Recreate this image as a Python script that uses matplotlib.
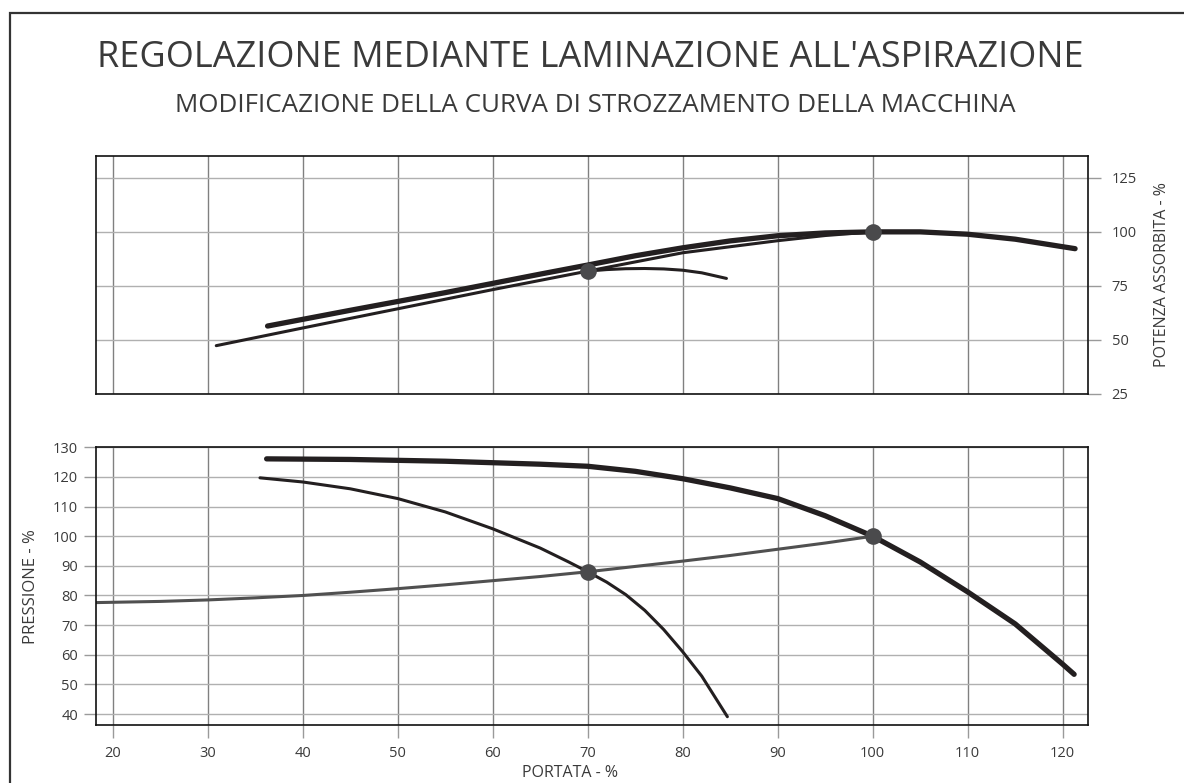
import numpy as np
import matplotlib
matplotlib.use("Agg")
import matplotlib.pyplot as plt
from matplotlib.patches import Rectangle

plt.rcParams['font.family'] = ['Open Sans', 'DejaVu Sans']

# --- data ---
# upper panel: absorbed power (%)
pow_full_x = [36.3, 45, 55, 65, 70, 75, 80, 85, 90, 95, 100, 105, 110, 115, 120, 121.3]
pow_full_y = [56.3, 63.6, 71.8, 80.4, 84.6, 88.9, 92.6, 95.8, 98.2, 99.5, 100.0, 100.0, 98.9, 96.6, 93.1, 92.2]
pow_thr_x = [30.9, 40, 50, 60, 70, 80, 90, 95, 100]
pow_thr_y = [47.2, 55.4, 64.3, 73.2, 81.8, 90.3, 95.9, 98.3, 100.0]
pow_branch_x = [70, 72, 74, 76, 78, 80, 82, 84.6]
pow_branch_y = [81.8, 82.5, 82.9, 83.0, 82.8, 82.2, 81.0, 78.4]
pow_points_x = [70, 100]
pow_points_y = [81.8, 100]

# lower panel: pressure (%)
head_full_x = [36.2, 45, 55, 65, 70, 75, 80, 85, 90, 95, 100, 105, 110, 115, 120, 121.2]
head_full_y = [126.1, 125.9, 125.3, 124.3, 123.6, 121.9, 119.4, 116.3, 112.7, 106.9, 100.0, 91.3, 81.2, 70.4, 56.8, 53.4]
head_thr_x = [35.5, 40, 45, 50, 55, 60, 65, 68, 70, 72, 74, 76, 78, 80, 82, 84.7]
head_thr_y = [119.7, 118.3, 116.0, 112.7, 108.2, 102.5, 96.0, 91.3, 88.0, 84.5, 80.3, 75.0, 68.5, 61.0, 52.8, 39.1]
sys_x = [18.2, 25, 30, 35, 40, 45, 50, 55, 60, 65, 70, 75, 80, 85, 90, 95, 100]
sys_y = [77.6, 78.0, 78.5, 79.2, 80.0, 81.1, 82.3, 83.6, 85.0, 86.4, 88.0, 89.8, 91.6, 93.5, 95.6, 97.7, 100.0]
head_points_x = [70, 100]
head_points_y = [88, 100]

x_ticks = [20, 30, 40, 50, 60, 70, 80, 90, 100, 110, 120]
pow_ticks = [25, 50, 75, 100, 125]
head_ticks = [40, 50, 60, 70, 80, 90, 100, 110, 120, 130]

INK = '#231f20'
TXT = '#3a3a3a'
W, H = 1184, 783

fig = plt.figure(figsize=(W / 100, H / 100), dpi=100)

# outer frame (only top and left edges visible in the reference)
fig.patches.append(Rectangle((10 / W, -0.1), 1.2, 1 - 13 / H + 0.1, transform=fig.transFigure,
                             fill=False, edgecolor='#333333', lw=1.6))

fig.text(590 / W, 1 - 58 / H, "REGOLAZIONE MEDIANTE LAMINAZIONE ALL'ASPIRAZIONE",
         ha='center', va='center', fontsize=26, color=TXT)
fig.text(595 / W, 1 - 105 / H, "MODIFICAZIONE DELLA CURVA DI STROZZAMENTO DELLA MACCHINA",
         ha='center', va='center', fontsize=18.7, color=TXT)


def style(ax):
    ax.set_xlim(18.24, 122.66)
    ax.set_xticks(x_ticks)
    ax.grid(True, axis='x', color='#808080', lw=1.0)
    ax.grid(True, axis='y', color='#b0b0b0', lw=1.0)
    ax.set_axisbelow(True)
    for s in ax.spines.values():
        s.set_color('#111111')
        s.set_linewidth(1.2)
    ax.tick_params(length=9, width=1.0, color='#9a9a9a', labelsize=10.5, labelcolor=TXT)


# upper panel
ax1 = fig.add_axes([96 / W, 1 - 393.5 / H, (1088 - 96) / W, (393.5 - 156) / H])
style(ax1)
ax1.set_ylim(25, 135.2)
ax1.set_yticks(pow_ticks)
ax1.yaxis.tick_right()
ax1.yaxis.set_label_position('right')
ax1.tick_params(axis='x', length=0, labelbottom=False)
ax1.tick_params(axis='y', pad=8)
ax1.set_ylabel('POTENZA ASSORBITA - %', fontsize=11.5, color=TXT, labelpad=12)
ax1.plot(pow_full_x, pow_full_y, color=INK, lw=3.8, solid_capstyle='round', solid_joinstyle='round')
ax1.plot(pow_thr_x, pow_thr_y, color=INK, lw=2.2, solid_capstyle='round', solid_joinstyle='round')
ax1.plot(pow_branch_x, pow_branch_y, color=INK, lw=2.2, solid_capstyle='round', solid_joinstyle='round')
ax1.plot(pow_points_x, pow_points_y, 'o', color='#4a4a4c', ms=12, mew=0, zorder=5)

# lower panel
ax2 = fig.add_axes([96 / W, 1 - 725 / H, (1088 - 96) / W, (725 - 447.3) / H])
style(ax2)
ax2.set_ylim(36.3, 130)
ax2.set_yticks(head_ticks)
ax2.tick_params(axis='x', pad=6)
ax2.tick_params(axis='y', pad=4)
ax2.set_ylabel('PRESSIONE - %', fontsize=12, color=TXT, labelpad=10)
ax2.set_xlabel('PORTATA - %', fontsize=11.5, color=TXT, labelpad=4)
ax2.xaxis.set_label_coords(0.478, -0.145)
ax2.plot(sys_x, sys_y, color='#505050', lw=2.2, solid_capstyle='round', solid_joinstyle='round')
ax2.plot(head_full_x, head_full_y, color=INK, lw=3.8, solid_capstyle='round', solid_joinstyle='round')
ax2.plot(head_thr_x, head_thr_y, color=INK, lw=2.2, solid_capstyle='round', solid_joinstyle='round')
ax2.plot(head_points_x, head_points_y, 'o', color='#4a4a4c', ms=12, mew=0, zorder=5)

fig.savefig('out.png', dpi=100)
